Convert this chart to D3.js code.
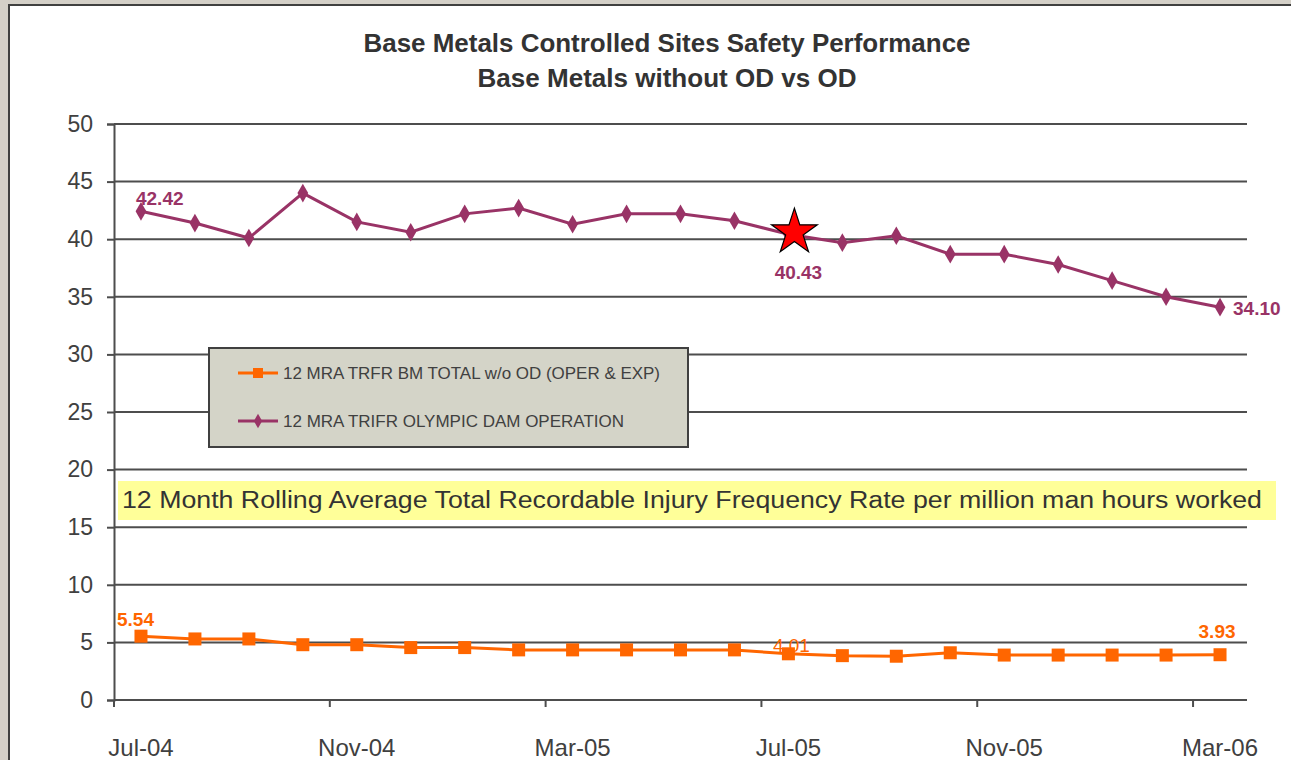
<!DOCTYPE html>
<html>
<head>
<meta charset="utf-8">
<script src="https://cdn.jsdelivr.net/npm/d3@7"></script>
<style>
  html, body { margin: 0; overflow: hidden; background: #d4d0c8; }
  svg { display: block; font-family: "Liberation Sans", Arial, sans-serif; }
</style>
</head>
<body>
<div id="chart"></div>
<script>
const months = ["Jul-04", "Aug-04", "Sep-04", "Oct-04", "Nov-04", "Dec-04", "Jan-05",
    "Feb-05", "Mar-05", "Apr-05", "May-05", "Jun-05", "Jul-05", "Aug-05", "Sep-05",
    "Oct-05", "Nov-05", "Dec-05", "Jan-06", "Feb-06", "Mar-06"];

const bmTotal = [5.54, 5.3, 5.3, 4.8, 4.8, 4.55, 4.55, 4.35, 4.35, 4.35, 4.35, 4.35,
    4.01, 3.85, 3.8, 4.1, 3.9, 3.9, 3.9, 3.9, 3.93];

const olympicDam = [42.42, 41.4, 40.1, 44.0, 41.5, 40.6, 42.2, 42.7, 41.3, 42.2, 42.2, 41.6,
    40.43, 39.7, 40.3, 38.7, 38.7, 37.8, 36.4, 35.0, 34.10];

const yTicks = [0, 5, 10, 15, 20, 25, 30, 35, 40, 45, 50];
const xTickLabels = ["Jul-04", "Nov-04", "Mar-05", "Jul-05", "Nov-05", "Mar-06"];

// labels shown on the chart: [series, month index, text]
const pointLabels = [
    { s: "od", i: 0, text: "42.42" },
    { s: "od", i: 12, text: "40.43" },
    { s: "od", i: 20, text: "34.10" },
    { s: "bm", i: 0, text: "5.54" },
    { s: "bm", i: 12, text: "4.01" },
    { s: "bm", i: 20, text: "3.93" }
];

const W = 1291, H = 760;
const orange = "#ff6600", purple = "#993366", grid = "#4d4d4d", txt = "#404040";

const svg = d3.select("#chart").append("svg")
    .attr("width", W)
    .attr("height", H);

// chart frame (only top and left edges are visible)
svg.append("rect")
    .attr("x", 9).attr("y", 5)
    .attr("width", W).attr("height", H)
    .attr("fill", "#fff");
svg.append("path")
    .attr("d", `M9,${H} V5 H${W}`)
    .attr("fill", "none")
    .attr("stroke", "#404040")
    .attr("stroke-width", 2);

// scales
const x = d3.scaleBand()
    .domain(months)
    .range([114, 1247])
    .padding(0);

const y = d3.scaleLinear()
    .domain([0, 50])
    .range([700, 124]);

const cx = m => x(m) + x.bandwidth() / 2;

// title
svg.append("text")
    .attr("x", 667).attr("y", 52)
    .attr("text-anchor", "middle")
    .attr("font-size", 25).attr("font-weight", "bold")
    .attr("fill", "#333")
    .attr("textLength", 607).attr("lengthAdjust", "spacingAndGlyphs")
    .text("Base Metals Controlled Sites Safety Performance");
svg.append("text")
    .attr("x", 667).attr("y", 87)
    .attr("text-anchor", "middle")
    .attr("font-size", 25).attr("font-weight", "bold")
    .attr("fill", "#333")
    .attr("textLength", 379).attr("lengthAdjust", "spacingAndGlyphs")
    .text("Base Metals without OD vs OD");

// gridlines
svg.append("g")
    .selectAll("line")
    .data(yTicks.filter(d => d > 0))
    .enter().append("line")
    .attr("x1", 114).attr("x2", 1247)
    .attr("y1", d => y(d)).attr("y2", d => y(d))
    .attr("stroke", grid).attr("stroke-width", 2);

// y axis
const yAxis = svg.append("g")
    .attr("transform", "translate(114,0)")
    .call(d3.axisLeft(y).tickValues(yTicks).tickSize(7).tickPadding(14).tickFormat(d3.format("d")));
yAxis.select(".domain").attr("stroke", grid).attr("stroke-width", 2);
yAxis.selectAll(".tick line").attr("stroke", grid).attr("stroke-width", 2);
yAxis.selectAll(".tick text")
    .attr("font-size", 23).attr("fill", txt)
    .attr("font-family", "Liberation Sans, Arial, sans-serif");

// x axis: ticks at band edges, labels at band centre
const xAxisG = svg.append("g");
xAxisG.append("line")
    .attr("x1", 114).attr("x2", 1247)
    .attr("y1", y(0)).attr("y2", y(0))
    .attr("stroke", grid).attr("stroke-width", 2);
xAxisG.selectAll("line.tk")
    .data(xTickLabels)
    .enter().append("line")
    .attr("class", "tk")
    .attr("x1", d => x(d)).attr("x2", d => x(d))
    .attr("y1", y(0)).attr("y2", y(0) + 7)
    .attr("stroke", grid).attr("stroke-width", 2);
xAxisG.selectAll("text")
    .data(xTickLabels)
    .enter().append("text")
    .attr("x", d => cx(d))
    .attr("y", 756)
    .attr("text-anchor", "middle")
    .attr("font-size", 24).attr("fill", txt)
    .text(d => d);

// yellow annotation
svg.append("rect")
    .attr("x", 118).attr("y", 481)
    .attr("width", 1158).attr("height", 39)
    .attr("fill", "#ffff99");
svg.append("text")
    .attr("x", 122).attr("y", 508)
    .attr("font-size", 23).attr("fill", "#333")
    .attr("textLength", 1140)
    .attr("lengthAdjust", "spacingAndGlyphs")
    .text("12 Month Rolling Average Total Recordable Injury Frequency Rate per million man hours worked");

// lines
const line = d3.line()
    .x((d, i) => cx(months[i]))
    .y(d => y(d));

svg.append("path")
    .datum(olympicDam)
    .attr("d", line)
    .attr("fill", "none")
    .attr("stroke", purple).attr("stroke-width", 3);

svg.append("path")
    .datum(bmTotal)
    .attr("d", line)
    .attr("fill", "none")
    .attr("stroke", orange).attr("stroke-width", 3);

// markers
const diamond = d3.symbol().type(d3.symbolDiamond).size(100);
svg.append("g").selectAll("path")
    .data(olympicDam)
    .enter().append("path")
    .attr("d", diamond)
    .attr("transform", (d, i) => `translate(${cx(months[i])},${y(d)})`)
    .attr("fill", purple);

svg.append("g").selectAll("rect")
    .data(bmTotal)
    .enter().append("rect")
    .attr("x", (d, i) => cx(months[i]) - 6.5)
    .attr("y", d => y(d) - 6.5)
    .attr("width", 13).attr("height", 13)
    .attr("fill", orange);

// star on Jul-05
const star = d3.symbol().type(d3.symbolStar).size(650);
svg.append("path")
    .attr("d", star)
    .attr("transform", `translate(${cx("Jul-05") + 6},${y(40.43) - 2})`)
    .attr("fill", "#ff0000")
    .attr("stroke", "#000").attr("stroke-width", 1.2);

// point labels
const labelPos = {
    "od-0": { dx: -5, dy: -6, anchor: "start", bold: true },
    "od-12": { dx: 10, dy: 45, anchor: "middle", bold: true },
    "od-20": { dx: 13, dy: 8, anchor: "start", bold: true },
    "bm-0": { dx: -24, dy: -10, anchor: "start", bold: true },
    "bm-12": { dx: 3, dy: -2, anchor: "middle", bold: false },
    "bm-20": { dx: -3, dy: -17, anchor: "middle", bold: true }
};
svg.append("g").selectAll("text")
    .data(pointLabels)
    .enter().append("text")
    .each(function(d) {
        const p = labelPos[d.s + "-" + d.i];
        const v = d.s === "od" ? olympicDam[d.i] : bmTotal[d.i];
        d3.select(this)
            .attr("x", cx(months[d.i]) + p.dx)
            .attr("y", y(v) + p.dy)
            .attr("text-anchor", p.anchor)
            .attr("font-weight", p.bold ? "bold" : "normal");
    })
    .attr("font-size", 19)
    .attr("fill", d => d.s === "od" ? purple : orange)
    .text(d => d.text);

// legend
const lg = svg.append("g");
lg.append("rect")
    .attr("x", 209).attr("y", 348)
    .attr("width", 479).attr("height", 99)
    .attr("fill", "#d4d4c8")
    .attr("stroke", "#404040").attr("stroke-width", 2);

const legendItems = [
    { label: "12 MRA TRFR BM TOTAL w/o OD (OPER & EXP)", color: orange, shape: "square", ly: 373, w: 377 },
    { label: "12 MRA TRIFR OLYMPIC DAM OPERATION", color: purple, shape: "diamond", ly: 421, w: 341 }
];
legendItems.forEach(it => {
    lg.append("line")
        .attr("x1", 238).attr("x2", 278)
        .attr("y1", it.ly).attr("y2", it.ly)
        .attr("stroke", it.color).attr("stroke-width", 3);
    if (it.shape === "square") {
        lg.append("rect")
            .attr("x", 253).attr("y", it.ly - 5)
            .attr("width", 10).attr("height", 10)
            .attr("fill", it.color);
    } else {
        lg.append("path")
            .attr("d", d3.symbol().type(d3.symbolDiamond).size(60))
            .attr("transform", `translate(258,${it.ly})`)
            .attr("fill", it.color);
    }
    lg.append("text")
        .attr("x", 283).attr("y", it.ly + 6)
        .attr("font-size", 16).attr("fill", txt)
        .attr("textLength", it.w).attr("lengthAdjust", "spacingAndGlyphs")
        .text(it.label);
});
</script>
</body>
</html>
